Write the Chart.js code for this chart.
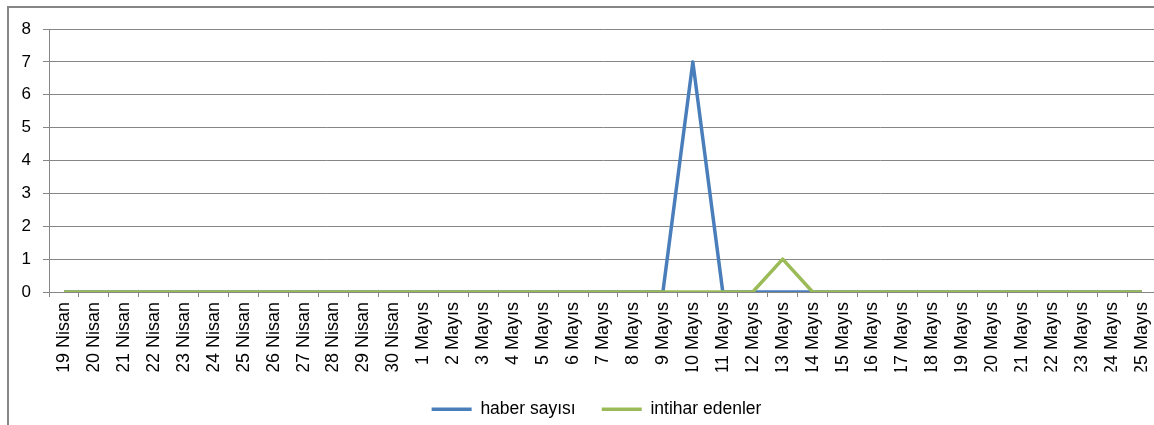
<!DOCTYPE html>
<html>
<head>
<meta charset="utf-8">
<script src="https://cdn.jsdelivr.net/npm/chart.js@4/dist/chart.umd.min.js"></script>
<style>
  html, body { margin: 0; padding: 0; background: #fff; overflow: hidden; }
  #wrap { width: 1158px; height: 425px; position: relative; }
</style>
</head>
<body>
<div id="wrap"><canvas id="chart"></canvas></div>
<script>
const days = [
  '19 Nisan', '20 Nisan', '21 Nisan', '22 Nisan', '23 Nisan', '24 Nisan',
  '25 Nisan', '26 Nisan', '27 Nisan', '28 Nisan', '29 Nisan', '30 Nisan',
  '1 Mayıs', '2 Mayıs', '3 Mayıs', '4 Mayıs', '5 Mayıs', '6 Mayıs', '7 Mayıs',
  '8 Mayıs', '9 Mayıs', '10 Mayıs', '11 Mayıs', '12 Mayıs', '13 Mayıs',
  '14 Mayıs', '15 Mayıs', '16 Mayıs', '17 Mayıs', '18 Mayıs', '19 Mayıs',
  '20 Mayıs', '21 Mayıs', '22 Mayıs', '23 Mayıs', '24 Mayıs', '25 Mayıs',
];

const haberSayisi = [
  0, 0, 0, 0, 0, 0, 0, 0, 0, 0, 0, 0,
  0, 0, 0, 0, 0, 0, 0, 0, 0, 7, 0, 0, 0,
  0, 0, 0, 0, 0, 0, 0, 0, 0, 0, 0, 0,
];

const intiharEdenler = [
  0, 0, 0, 0, 0, 0, 0, 0, 0, 0, 0, 0,
  0, 0, 0, 0, 0, 0, 0, 0, 0, 0, 0, 0, 1,
  0, 0, 0, 0, 0, 0, 0, 0, 0, 0, 0, 0,
];

const yTicks = [0, 1, 2, 3, 4, 5, 6, 7, 8];

const BLUE = '#4a7ebb';
const GREEN = '#9bbb59';
const GRID = '#868686';
const FONT = "'Liberation Sans', Arial, sans-serif";

// outer chart frame (only top and left edges are visible in the source)
const framePlugin = {
  id: 'frame',
  afterLayout(chart) {
    // legend sits a little right of the canvas centre in the source
    if (chart.legend) {
      chart.legend.left += 13;
      chart.legend.right += 13;
      chart.legend.top += 3;
      chart.legend.bottom += 3;
    }
  },
  beforeDraw(chart) {
    const { ctx, width, height } = chart;
    ctx.save();
    ctx.strokeStyle = GRID;
    ctx.lineWidth = 2;
    ctx.beginPath();
    ctx.moveTo(8, height);
    ctx.lineTo(8, 7);
    ctx.lineTo(width, 7);
    ctx.stroke();
    ctx.restore();
  },
};

new Chart(document.getElementById('chart'), {
  type: 'line',
  data: {
    labels: days,
    // green first so it is drawn on top of the blue line at zero
    datasets: [
      {
        label: 'intihar edenler',
        data: intiharEdenler,
        borderColor: GREEN,
        backgroundColor: GREEN,
        borderWidth: 3.5,
        borderJoinStyle: 'round',
        pointRadius: 0,
        tension: 0,
        fill: false,
      },
      {
        label: 'haber sayısı',
        data: haberSayisi,
        borderColor: BLUE,
        backgroundColor: BLUE,
        borderWidth: 3.5,
        borderJoinStyle: 'round',
        pointRadius: 0,
        tension: 0,
        fill: false,
      },
    ],
  },
  plugins: [framePlugin],
  options: {
    responsive: true,
    maintainAspectRatio: false,
    animation: false,
    layout: { padding: { left: 10, top: 29, right: 1, bottom: 0 } },
    scales: {
      y: {
        min: 0,
        max: 8,
        afterBuildTicks(scale) {
          scale.ticks = yTicks.map((v) => ({ value: v }));
        },
        afterFit(scale) {
          scale.width = 39;
        },
        grid: { color: GRID, lineWidth: 1, tickLength: 6, drawTicks: true },
        border: { color: GRID, width: 1 },
        ticks: {
          color: '#000',
          padding: 12,
          font: { family: FONT, size: 17 },
        },
      },
      x: {
        offset: true,
        afterFit(scale) {
          scale.height = 79.5;
          scale.paddingLeft = 0;
          scale.paddingRight = 0;
        },
        grid: {
          offset: true,
          drawOnChartArea: false,
          color: GRID,
          tickLength: 5,
        },
        border: { color: GRID, width: 1 },
        ticks: {
          color: '#000',
          autoSkip: false,
          minRotation: 90,
          maxRotation: 90,
          padding: 5,
          font: { family: FONT, size: 18 },
        },
      },
    },
    plugins: {
      legend: {
        position: 'bottom',
        reverse: true,
        labels: {
          color: '#000',
          usePointStyle: true,
          pointStyle: 'line',
          pointStyleWidth: 40,
          boxHeight: 4,
          padding: 26,
          font: { family: FONT, size: 17.5 },
        },
      },
      tooltip: { enabled: false },
    },
  },
});
</script>
</body>
</html>
